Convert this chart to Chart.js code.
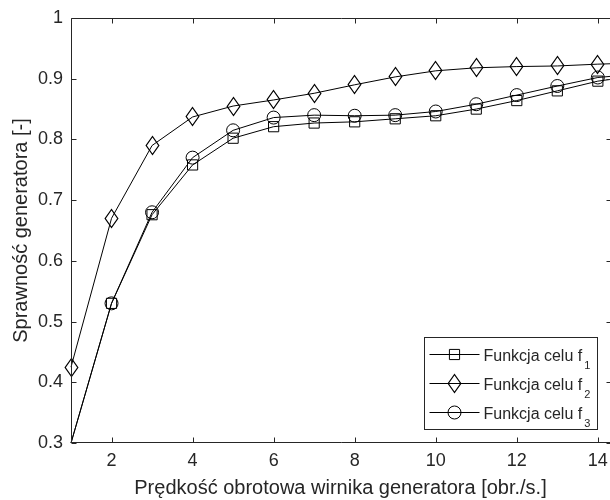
<!DOCTYPE html>
<html lang="pl">
<head>
<meta charset="UTF-8">
<title>Sprawność generatora</title>
<script src="https://cdn.jsdelivr.net/npm/chart.js"></script>
<style>
  html, body { margin: 0; padding: 0; background: #fff; }
  #wrap { width: 610px; height: 500px; }
</style>
</head>
<body>
<div id="wrap"><canvas id="myChart"></canvas></div>
<script>
// dane
const predkosc = [1, 2, 3, 4, 5, 6, 7, 8, 9, 10, 11, 12, 13, 14, 15];
const funkcjaF1 = [0.300, 0.530, 0.676, 0.758, 0.802, 0.821, 0.827, 0.829, 0.834, 0.839, 0.850, 0.864, 0.880, 0.896, 0.905];
const funkcjaF2 = [0.425, 0.670, 0.790, 0.837, 0.855, 0.865, 0.876, 0.890, 0.903, 0.913, 0.918, 0.920, 0.921, 0.924, 0.926];
const funkcjaF3 = [0.300, 0.530, 0.680, 0.770, 0.815, 0.836, 0.840, 0.839, 0.840, 0.846, 0.858, 0.873, 0.888, 0.902, 0.908];
const etykiety = ['Funkcja celu f', 'Funkcja celu f', 'Funkcja celu f'];
const indeksy = ['1', '2', '3'];
const xTicks = [2, 4, 6, 8, 10, 12, 14];
const yTicks = [0.3, 0.4, 0.5, 0.6, 0.7, 0.8, 0.9, 1];

const kolor = '#262626';
const czcionka = '"Liberation Sans", Arial, sans-serif';
Chart.defaults.font.family = czcionka;
Chart.defaults.color = kolor;

// romb wyzszy niz szerszy, jak w MATLABie
function romb() {
    const c = document.createElement('canvas');
    c.width = 15; c.height = 21;
    const g = c.getContext('2d');
    g.strokeStyle = '#000';
    g.lineWidth = 1.25;
    g.beginPath();
    g.moveTo(7.5, 1.5);
    g.lineTo(13.8, 10.5);
    g.lineTo(7.5, 19.5);
    g.lineTo(1.2, 10.5);
    g.closePath();
    g.stroke();
    return c;
}

const yMin = yTicks[0];
const ukryjNaRogu = (r) => (c) => (c.parsed && c.parsed.y <= yMin ? 0 : r);

function seria(dane, styl, r) {
    return {
        data: predkosc.map((x, i) => ({x: x, y: dane[i]})),
        borderColor: '#000',
        borderWidth: 1,
        backgroundColor: 'rgba(0,0,0,0)',
        pointStyle: styl,
        pointRadius: ukryjNaRogu(r),
        pointBorderColor: '#000',
        pointBackgroundColor: 'rgba(0,0,0,0)',
        pointBorderWidth: 1,
        tension: 0,
        clip: false
    };
}

const ostro = {
    id: 'ostro',
    beforeDatasetsDraw(chart) { chart.ctx.imageSmoothingEnabled = false; },
    afterDatasetsDraw(chart) { chart.ctx.imageSmoothingEnabled = true; }
};

const ramka = {
    id: 'ramka',
    afterDraw(chart) {
        const {ctx, chartArea: a, scales} = chart;
        const L = Math.round(a.left) + 0.5, R = Math.round(a.right) - 0.5;
        const T = Math.round(a.top) + 0.5, B = Math.round(a.bottom) - 0.5;
        ctx.save();
        ctx.strokeStyle = kolor;
        ctx.lineWidth = 1;
        ctx.beginPath();
        // prawa krawedz osi jest poza obrazkiem
        ctx.moveTo(R + 2, T); ctx.lineTo(L, T); ctx.lineTo(L, B); ctx.lineTo(R + 2, B);
        xTicks.forEach(v => {
            const px = Math.round(scales.x.getPixelForValue(v)) + 0.5;
            ctx.moveTo(px, B); ctx.lineTo(px, B - 5);
            ctx.moveTo(px, T); ctx.lineTo(px, T + 5);
        });
        yTicks.forEach(v => {
            const py = Math.round(scales.y.getPixelForValue(v)) + 0.5;
            ctx.moveTo(L, py); ctx.lineTo(L + 5, py);
            ctx.moveTo(R + 2, py); ctx.lineTo(R - 3, py);
        });
        ctx.stroke();
        ctx.restore();
    }
};

const legenda = {
    id: 'legenda',
    afterDraw(chart) {
        const {ctx, chartArea: a} = chart;
        const w = 173, h = 92;
        const x0 = Math.round(a.right) - 13 - w + 0.5;
        const y0 = Math.round(a.bottom) - 14 - h + 0.5;
        ctx.save();
        ctx.imageSmoothingEnabled = false;
        ctx.fillStyle = '#fff';
        ctx.fillRect(x0, y0, w, h);
        ctx.strokeStyle = kolor;
        ctx.lineWidth = 1;
        ctx.strokeRect(x0, y0, w, h);
        chart.data.datasets.forEach((ds, i) => {
            const cy = Math.round(y0 + 16.5 + i * 29) + 0.5;
            ctx.strokeStyle = '#000';
            ctx.lineWidth = 1;
            ctx.beginPath();
            ctx.moveTo(x0 + 5, cy);
            ctx.lineTo(x0 + 55, cy);
            ctx.stroke();
            const r = ds.pointRadius({parsed: {y: 1}});
            ctx.fillStyle = 'rgba(0,0,0,0)';
            Chart.helpers.drawPoint(ctx, {pointStyle: ds.pointStyle, radius: r, borderWidth: 1, rotation: 0}, x0 + 30, cy);
            ctx.fillStyle = kolor;
            ctx.font = '16px ' + czcionka;
            ctx.textBaseline = 'alphabetic';
            ctx.textAlign = 'left';
            const tx = x0 + 59;
            ctx.fillText(etykiety[i], tx, cy + 6);
            const tw = ctx.measureText(etykiety[i]).width;
            ctx.font = '11px ' + czcionka;
            ctx.fillText(indeksy[i], tx + tw + 2, cy + 14);
        });
        ctx.restore();
    }
};

const chart = new Chart(document.getElementById('myChart'), {
    type: 'line',
    data: {
        datasets: [
            seria(funkcjaF1, 'rect', 7.2),
            seria(funkcjaF2, romb(), 9),
            seria(funkcjaF3, 'circle', 6.5)
        ]
    },
    options: {
        responsive: true,
        maintainAspectRatio: false,
        animation: false,
        layout: { autoPadding: false, padding: { top: 18, right: 0, bottom: 0, left: 0 } },
        plugins: { legend: { display: false }, tooltip: { enabled: false } },
        scales: {
            x: {
                type: 'linear',
                min: 1,
                max: 14.3,
                afterBuildTicks: s => { s.ticks = xTicks.map(v => ({value: v})); },
                afterFit: s => { s.height = 57; s.paddingLeft = 0; s.paddingRight = 0; },
                grid: { display: false, drawTicks: false },
                border: { display: false },
                ticks: { font: { size: 18 }, color: kolor, padding: 7, maxRotation: 0, callback: v => String(v) },
                title: { display: true, text: 'Prędkość obrotowa wirnika generatora [obr./s.]', font: { size: 20 }, color: kolor, padding: { top: 0, bottom: 0 } }
            },
            y: {
                type: 'linear',
                min: 0.3,
                max: 1,
                afterBuildTicks: s => { s.ticks = yTicks.map(v => ({value: v})); },
                afterFit: s => { s.width = 71; s.paddingTop = 0; s.paddingBottom = 0; },
                grid: { display: false, drawTicks: false },
                border: { display: false },
                ticks: { font: { size: 18 }, color: kolor, padding: 8, callback: v => String(v) },
                title: { display: true, text: 'Sprawność generatora [-]', font: { size: 20 }, color: kolor, padding: { top: 9, bottom: 0 } }
            }
        }
    },
    plugins: [ostro, ramka, legenda]
});
</script>
</body>
</html>
